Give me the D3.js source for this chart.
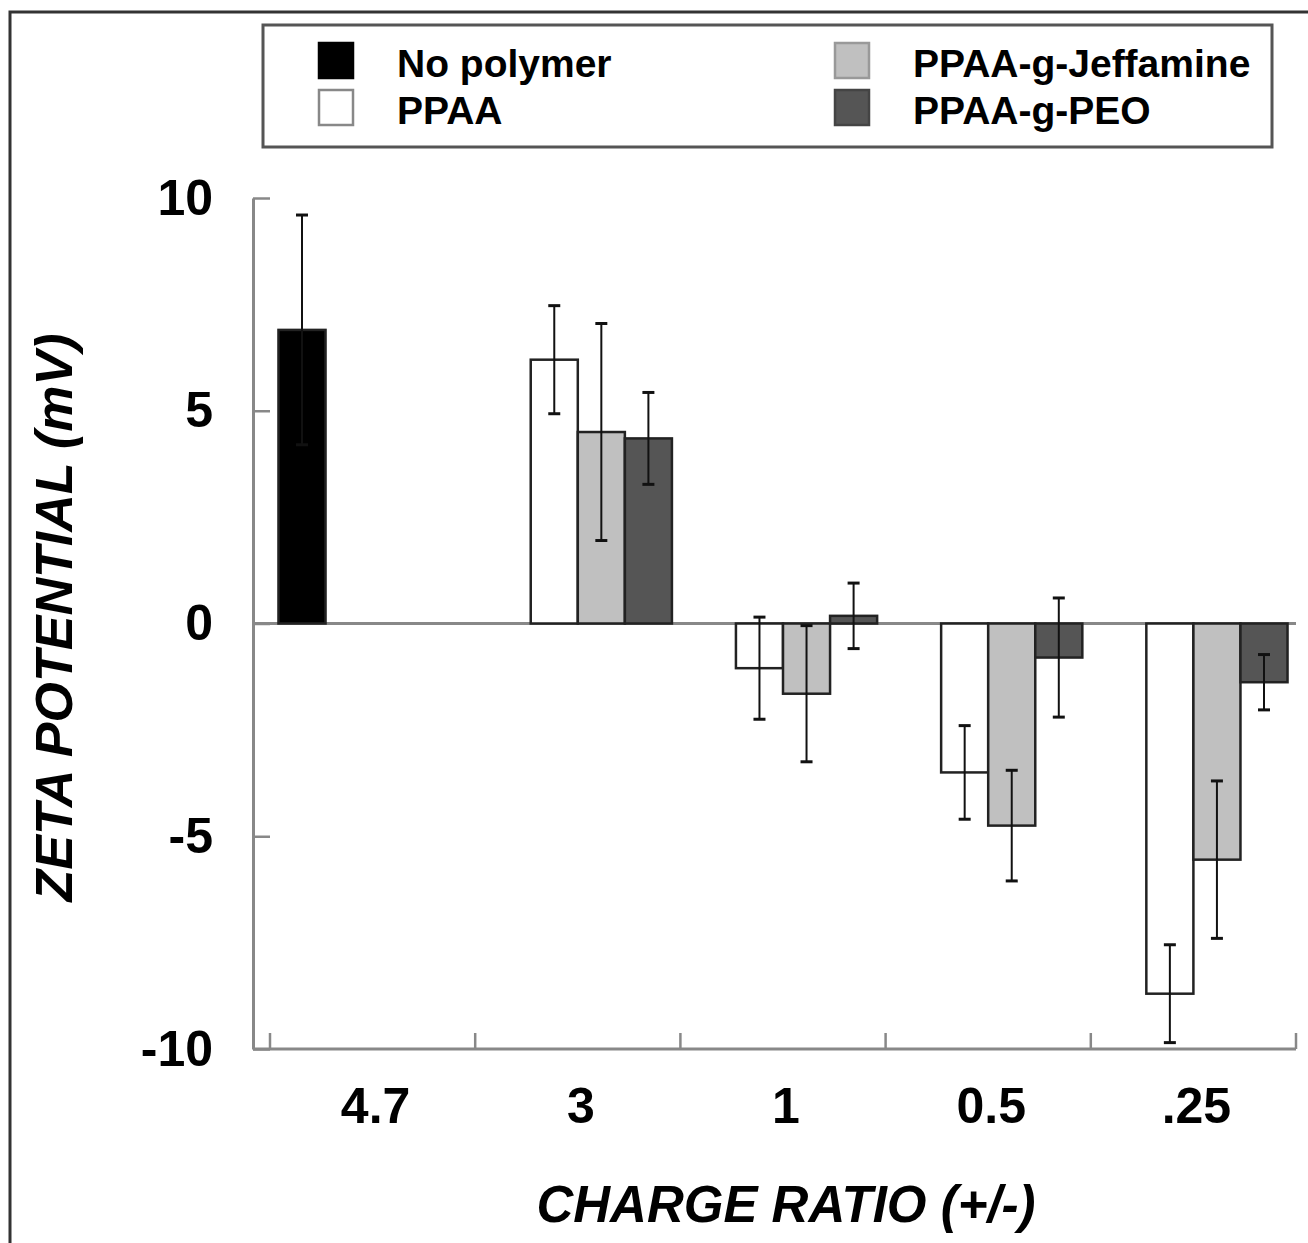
<!DOCTYPE html>
<html>
<head>
<meta charset="utf-8">
<script src="https://cdn.jsdelivr.net/npm/d3@7"></script>
<style>
  body { margin: 0; background: #fff; }
  text { font-family: "Liberation Sans", Arial, sans-serif; font-weight: bold; fill: #000; }
</style>
</head>
<body>
<div id="chart"></div>
<script>
// data
const categories = ["4.7", "3", "1", "0.5", ".25"];
const seriesNames = ["No polymer", "PPAA", "PPAA-g-Jeffamine", "PPAA-g-PEO"];
const seriesColors = ["#000000", "#ffffff", "#c0c0c0", "#555555"];

const noPolymer = [6.9, null, null, null, null];
const ppaa = [null, 6.2, -1.05, -3.5, -8.7];
const jeffamine = [null, 4.5, -1.65, -4.75, -5.55];
const peo = [null, 4.35, 0.18, -0.8, -1.38];

const noPolymerErr = [2.7, null, null, null, null];
const ppaaErr = [null, 1.27, 1.2, 1.1, 1.15];
const jeffamineErr = [null, 2.55, 1.6, 1.3, 1.85];
const peoErr = [null, 1.08, 0.77, 1.4, 0.65];

const yTicks = [-10, -5, 0, 5, 10];

const values = [noPolymer, ppaa, jeffamine, peo];
const errors = [noPolymerErr, ppaaErr, jeffamineErr, peoErr];

let width = 1308, height = 1243;

let svg = d3.select("#chart").append("svg")
  .attr("width", width)
  .attr("height", height);

// outer frame
svg.append("rect")
  .attr("x", 10).attr("y", 12)
  .attr("width", 1320).attr("height", 1260)
  .attr("fill", "none")
  .attr("stroke", "#333")
  .attr("stroke-width", 3);

const axisX = 253;
const x0 = d3.scaleBand(categories, [270, 1296]).padding(0);
const x1 = d3.scaleBand(seriesNames, [0, x0.bandwidth()]).paddingInner(0).paddingOuter(0.18);
const y = d3.scaleLinear([-10, 10], [1049, 198]);

// y axis, ticks pointing inward
const yAxis = svg.append("g")
  .attr("transform", `translate(${axisX},0)`)
  .call(d3.axisLeft(y).tickValues(yTicks).tickFormat(d => String(d))
    .tickSizeInner(-17).tickSizeOuter(0).tickPadding(40));
yAxis.select(".domain").attr("stroke", "#888").attr("stroke-width", 3);
yAxis.selectAll(".tick line").attr("stroke", "#888").attr("stroke-width", 2.5);
yAxis.selectAll(".tick text")
  .style("font-size", "50px")
  .attr("fill", "#000")
  .style("font-family", "Liberation Sans, Arial, sans-serif")
  .style("font-weight", "bold");

// x axis baseline and category boundary ticks
svg.append("line")
  .attr("x1", axisX).attr("x2", x0.range()[1])
  .attr("y1", y(-10)).attr("y2", y(-10))
  .attr("stroke", "#888").attr("stroke-width", 3);

const bounds = categories.map(c => x0(c)).concat([x0.range()[1]]);
svg.selectAll(".xtick")
  .data(bounds)
  .join("line")
  .attr("class", "xtick")
  .attr("x1", d => d).attr("x2", d => d)
  .attr("y1", y(-10)).attr("y2", y(-10) - 16)
  .attr("stroke", "#888").attr("stroke-width", 2.5);

svg.selectAll(".xlabel")
  .data(categories)
  .join("text")
  .attr("class", "xlabel")
  .attr("x", d => x0(d) + x0.bandwidth() / 2 + 3)
  .attr("y", 1123)
  .attr("text-anchor", "middle")
  .style("font-size", "50px")
  .text(d => d);

// zero line
svg.append("line")
  .attr("x1", axisX).attr("x2", x0.range()[1])
  .attr("y1", y(0)).attr("y2", y(0))
  .attr("stroke", "#888").attr("stroke-width", 3);

// bars
let barData = [];
seriesNames.forEach((s, si) => {
  categories.forEach((c, ci) => {
    const v = values[si][ci];
    if (v === null) return;
    barData.push({ s: s, si: si, c: c, v: v, e: errors[si][ci] });
  });
});

svg.selectAll(".bar")
  .data(barData)
  .join("rect")
  .attr("class", "bar")
  .attr("x", d => x0(d.c) + x1(d.s))
  .attr("y", d => y(Math.max(0, d.v)))
  .attr("width", x1.bandwidth())
  .attr("height", d => Math.abs(y(d.v) - y(0)))
  .attr("fill", d => seriesColors[d.si])
  .attr("stroke", "#222")
  .attr("stroke-width", 2.5);

// error bars
const err = svg.selectAll(".err")
  .data(barData)
  .join("g")
  .attr("class", "err")
  .attr("transform", d => `translate(${x0(d.c) + x1(d.s) + x1.bandwidth() / 2},0)`);

err.append("line")
  .attr("y1", d => y(d.v + d.e))
  .attr("y2", d => y(d.v - d.e))
  .attr("stroke", "#111")
  .attr("stroke-width", 2);

err.selectAll(".cap")
  .data(d => [d.v + d.e, d.v - d.e])
  .join("line")
  .attr("class", "cap")
  .attr("x1", -6).attr("x2", 6)
  .attr("y1", d => y(d)).attr("y2", d => y(d))
  .attr("stroke", "#111")
  .attr("stroke-width", 3);

// axis titles
svg.append("text")
  .attr("x", (x0.range()[0] + x0.range()[1]) / 2 + 3)
  .attr("y", 1222)
  .attr("text-anchor", "middle")
  .style("font-size", "51px")
  .style("font-style", "italic")
  .text("CHARGE RATIO (+/-)");

svg.append("text")
  .attr("transform", `translate(72,${(y(10) + y(-10)) / 2 - 6}) rotate(-90)`)
  .attr("text-anchor", "middle")
  .style("font-size", "52px")
  .style("font-style", "italic")
  .text("ZETA POTENTIAL (mV)");

// legend
const legend = svg.append("g");
legend.append("rect")
  .attr("x", 263).attr("y", 25)
  .attr("width", 1009).attr("height", 122)
  .attr("fill", "#fff")
  .attr("stroke", "#555")
  .attr("stroke-width", 3);

const legendPos = [
  { x: 318, y: 42 },
  { x: 318, y: 89 },
  { x: 834, y: 42 },
  { x: 834, y: 89 }
];
const swatchStroke = ["#000", "#888", "#999", "#444"];

const item = legend.selectAll(".item")
  .data(seriesNames)
  .join("g")
  .attr("class", "item")
  .attr("transform", (d, i) => `translate(${legendPos[i].x},${legendPos[i].y})`);

item.append("rect")
  .attr("x", 1).attr("y", 1)
  .attr("width", 34).attr("height", 35)
  .attr("fill", (d, i) => seriesColors[i])
  .attr("stroke", (d, i) => swatchStroke[i])
  .attr("stroke-width", 2.5);

item.append("text")
  .attr("x", 79)
  .attr("y", 35)
  .style("font-size", "39px")
  .text(d => d);
</script>
</body>
</html>
